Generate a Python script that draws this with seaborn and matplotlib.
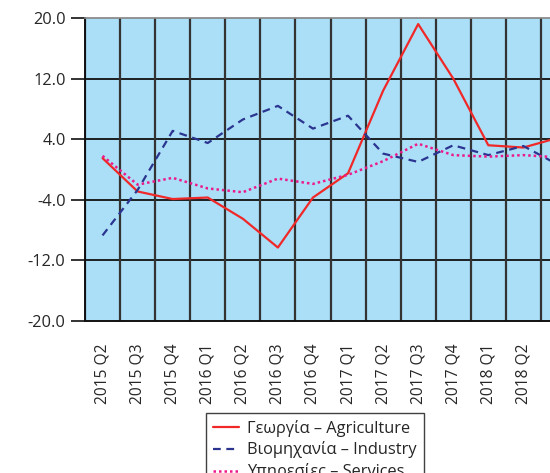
import numpy as np
import pandas as pd
import matplotlib
matplotlib.use("Agg")
import matplotlib.pyplot as plt
import seaborn as sns

# ---------------------------------------------------------------
# data
# ---------------------------------------------------------------
quarters = ["2015 Q2", "2015 Q3", "2015 Q4", "2016 Q1", "2016 Q2", "2016 Q3",
            "2016 Q4", "2017 Q1", "2017 Q2", "2017 Q3", "2017 Q4", "2018 Q1",
            "2018 Q2", "2018 Q3"]

agriculture = [1.5, -2.9, -3.9, -3.7, -6.5, -10.3, -3.7, -0.5, 10.4, 19.2,
               12.0, 3.2, 2.9, 4.2]
industry = [-8.7, -2.7, 5.1, 3.5, 6.6, 8.4, 5.4, 7.1, 2.1, 1.0,
            3.2, 1.9, 3.1, 0.6]
services = [1.8, -2.0, -1.1, -2.5, -3.0, -1.2, -1.9, -0.7, 1.1, 3.4,
            1.9, 1.7, 1.9, 1.6]

labels = ["Γεωργία – Agriculture", "Βιομηχανία – Industry", "Υπηρεσίες – Services"]
y_ticks = [-20, -12, -4, 4, 12, 20]

# ---------------------------------------------------------------
# style
# ---------------------------------------------------------------
sns.set_theme(style="white")
plt.rcParams["font.family"] = ["Open Sans", "DejaVu Sans"]
plt.rcParams["axes.unicode_minus"] = False
TXT = "#262626"
FS = 11.8

df = pd.DataFrame({
    "pos": np.arange(len(quarters)),
    "agr": agriculture,
    "ind": industry,
    "srv": services,
})

fig = plt.figure(figsize=(5.5, 4.73), dpi=100)
# axes runs past the right edge (the reference is cropped there)
ax = fig.add_axes([85 / 550, 1 - 321 / 473, 491 / 550, 303 / 473])
ax.set_facecolor("#abdff8")

sns.lineplot(data=df, x="pos", y="agr", ax=ax, color="#f02828", lw=1.6,
             label=labels[0])
sns.lineplot(data=df, x="pos", y="ind", ax=ax, color="#2b3590", lw=1.6,
             label=labels[1])
sns.lineplot(data=df, x="pos", y="srv", ax=ax, color="#ec1a8c", lw=1.8,
             label=labels[2])
ax.lines[1].set_linestyle((0, (3.5, 2.5)))
ax.lines[2].set_linestyle((0, (1, 1.2)))

ax.set_xlim(-0.5, len(quarters) - 0.5)
ax.set_ylim(-20, 20)

# horizontal grid
ax.set_yticks(y_ticks)
ax.set_yticklabels([f"{v:.1f}" for v in y_ticks], color=TXT, fontsize=FS)
for v in y_ticks[1:-1]:
    ax.axhline(v, color="#111111", lw=1.3, zorder=1)

# vertical separators between categories
ax.set_xticks(np.arange(len(quarters)))
ax.set_xticklabels(quarters, rotation=90, color=TXT, fontsize=11.2)
# last category sits beyond the cropped edge, its label is not visible
ax.get_xticklabels()[-1].set_visible(False)
for b in np.arange(len(quarters) + 1) - 0.5:
    ax.axvline(b, color="#333333", lw=1.6, zorder=1)

ax.tick_params(axis="y", direction="out", length=10, width=1.2, color="#111111",
               left=True, pad=4)
ax.tick_params(axis="x", length=0, pad=16)
ax.set_xlabel("")
ax.set_ylabel("")

for side in ["left", "bottom"]:
    ax.spines[side].set_color("#111111")
    ax.spines[side].set_linewidth(1.4)
ax.spines["top"].set_color("#888888")
ax.spines["right"].set_visible(False)

ax.get_legend().remove()
handles, _ = ax.get_legend_handles_labels()
leg = fig.legend(handles, labels, loc="upper center",
                 bbox_to_anchor=(315 / 550, 1 - 413 / 473),
                 frameon=True, fancybox=False, fontsize=FS,
                 handlelength=1.6, handletextpad=0.5, labelspacing=0.3,
                 borderpad=0.4, borderaxespad=0)
leg.get_frame().set_edgecolor("#111111")
leg.get_frame().set_linewidth(1.0)
for t in leg.get_texts():
    t.set_color(TXT)

fig.savefig("out.png", dpi=100)
